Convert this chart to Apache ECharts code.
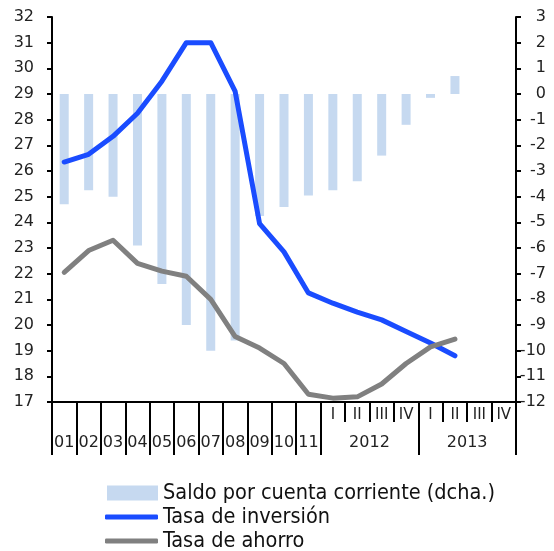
<!DOCTYPE html>
<html>
<head>
<meta charset="utf-8">
<script src="https://cdn.jsdelivr.net/npm/echarts@6/dist/echarts.min.js"></script>
<style>
html,body{margin:0;padding:0;background:#fff;}
#chart{width:554px;height:551px;}
</style>
</head>
<body>
<div id="chart"></div>
<script>
// Tick labels
const yearLabels = ['01','02','03','04','05','06','07','08','09','10','11'];
const quarterLabels = ['I','II','III','IV'];
const quarterYears = ['2012','2013'];

// Series names
const nameSaldo = 'Saldo por cuenta corriente (dcha.)';
const nameInversion = 'Tasa de inversión';
const nameAhorro = 'Tasa de ahorro';

// Series values (in category order)
const saldo = [-4.3, -3.75, -4.0, -5.9, -7.4, -9.0, -10.0, -9.6, -4.75, -4.4, -3.95, -3.75, -3.4, -2.4, -1.2, -0.15, 0.7, null, null];
const inversion = [26.35, 26.65, 27.35, 28.25, 29.5, 31.0, 31.0, 29.1, 23.95, 22.85, 21.25, 20.85, 20.5, 20.2, 19.75, 19.3, 18.8, null, null];
const ahorro = [22.05, 22.9, 23.3, 22.4, 22.1, 21.9, 21.0, 19.55, 19.1, 18.5, 17.3, 17.15, 17.2, 17.7, 18.5, 19.15, 19.45, null, null];

// Categories
const categories = yearLabels.concat(
  quarterYears.flatMap(y => quarterLabels.map(q => y + ' ' + q))
);

// Second (period) axis: half-step points spanning the same width
const nHalf = categories.length * 2 + 1;
const halfLabels = [];
for (let k = 0; k < nHalf; k++) {
  let lab = '';
  if (k % 2 === 1 && (k - 1) / 2 < yearLabels.length) lab = yearLabels[(k - 1) / 2];
  quarterYears.forEach((y, j) => {
    const centerK = 2 * (yearLabels.length + 4 * j + 2);
    if (k === centerK) lab = y;
  });
  halfLabels.push(lab);
}
const halfData = halfLabels.map((_, k) => 'p' + k);
const longTick = (k) => {
  if (k % 2 !== 0) return false;
  const b = k / 2;
  if (b <= yearLabels.length) return true;
  return (b - yearLabels.length) % 4 === 0;
};

const FONT = 'DejaVu Sans';
const LEGFONT = '"Liberation Sans Narrow", "DejaVu Sans Condensed", "Liberation Sans", sans-serif';

const chart = echarts.init(document.getElementById('chart'), null, {renderer: 'canvas'});
chart.setOption({
  animation: false,
  backgroundColor: '#ffffff',
  grid: {left: 52, right: 38, top: 17, bottom: 149, containLabel: false},
  xAxis: [
    {
      type: 'category',
      data: categories,
      boundaryGap: true,
      position: 'bottom',
      axisLine: {show: true, onZero: false, lineStyle: {color: '#000', width: 2}},
      axisTick: {show: true, inside: false, length: 20, interval: 0, lineStyle: {color: '#000', width: 2}},
      axisLabel: {
        interval: 0, margin: 6, color: '#222', fontFamily: FONT, fontSize: 15,
        formatter: (v) => v.indexOf(' ') >= 0 ? v.split(' ')[1] : ''
      },
      splitLine: {show: false}
    },
    {
      type: 'category',
      data: halfData,
      boundaryGap: false,
      position: 'bottom',
      axisLine: {show: false, onZero: false},
      axisTick: {show: true, inside: false, length: 53, interval: (k) => longTick(k), lineStyle: {color: '#000', width: 2}},
      axisLabel: {
        interval: 0, margin: 33, color: '#222', fontFamily: FONT, fontSize: 16,
        formatter: (v, i) => halfLabels[i]
      },
      splitLine: {show: false}
    }
  ],
  yAxis: [
    {
      type: 'value', min: 17, max: 32, interval: 1, position: 'left',
      axisLine: {show: true, lineStyle: {color: '#000', width: 2}},
      axisTick: {show: true, inside: false, length: 5, lineStyle: {color: '#000', width: 2}},
      axisLabel: {margin: 18, color: '#222', fontFamily: FONT, fontSize: 16},
      splitLine: {show: false}
    },
    {
      type: 'value', min: -12, max: 3, interval: 1, position: 'right',
      axisLine: {show: true, lineStyle: {color: '#000', width: 2}},
      axisTick: {show: true, inside: false, length: 5, lineStyle: {color: '#000', width: 2}},
      axisLabel: {margin: 30, align: 'right', color: '#222', fontFamily: FONT, fontSize: 16},
      splitLine: {show: false}
    }
  ],
  legend: [
    {
      orient: 'vertical', left: 107, top: 482, padding: 0, itemWidth: 51, itemHeight: 15, itemGap: 4,
      data: [{name: nameSaldo, icon: 'rect'}],
      textStyle: {fontFamily: LEGFONT, fontSize: 21.5, lineHeight: 20, color: '#111'}
    },
    {
      orient: 'vertical', left: 105, top: 506, padding: 0, itemWidth: 53, itemHeight: 5, itemGap: 4,
      data: [{name: nameInversion, icon: 'roundRect'}],
      textStyle: {fontFamily: LEGFONT, fontSize: 21.5, lineHeight: 20, color: '#111'}
    },
    {
      orient: 'vertical', left: 105, top: 530, padding: 0, itemWidth: 53, itemHeight: 5, itemGap: 4,
      data: [{name: nameAhorro, icon: 'roundRect'}],
      textStyle: {fontFamily: LEGFONT, fontSize: 21.5, lineHeight: 20, color: '#111'}
    }
  ],
  series: [
    {
      name: nameSaldo, type: 'bar', xAxisIndex: 0, yAxisIndex: 1,
      data: saldo, barWidth: 9,
      itemStyle: {color: '#c6d9f0'}
    },
    {
      name: nameInversion, type: 'line', xAxisIndex: 0, yAxisIndex: 0,
      data: inversion, symbol: 'none', showSymbol: false,
      lineStyle: {color: '#1a4cff', width: 5, cap: 'round', join: 'round'},
      itemStyle: {color: '#1a4cff'}
    },
    {
      name: nameAhorro, type: 'line', xAxisIndex: 0, yAxisIndex: 0,
      data: ahorro, symbol: 'none', showSymbol: false,
      lineStyle: {color: '#808080', width: 5, cap: 'round', join: 'round'},
      itemStyle: {color: '#808080'}
    }
  ]
});
</script>
</body>
</html>
